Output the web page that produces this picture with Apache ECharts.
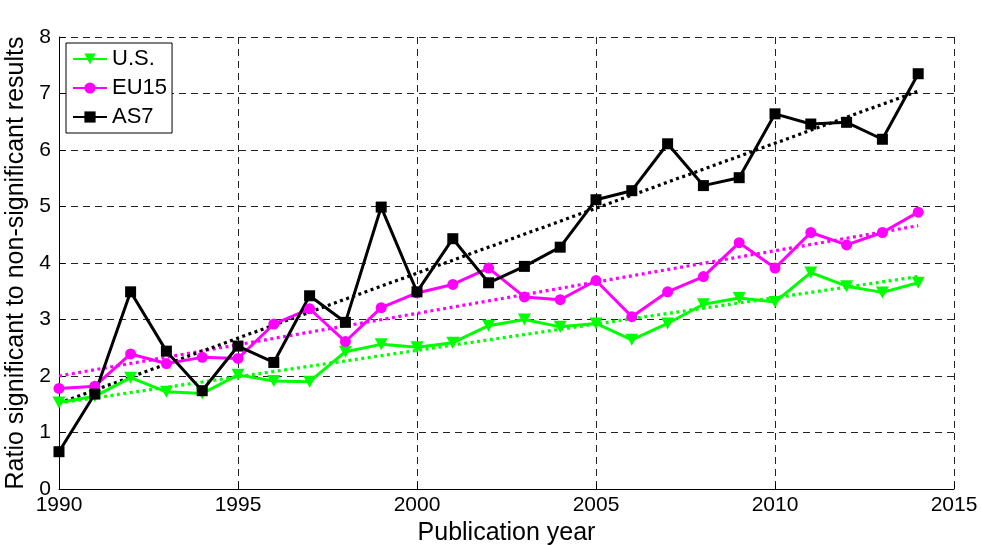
<!DOCTYPE html>
<html><head><meta charset="utf-8">
<script src="https://cdn.jsdelivr.net/npm/echarts@6/dist/echarts.min.js"></script>
<style>html,body{margin:0;padding:0;background:#fff}#c{width:981px;height:545px}</style>
</head><body><div id="c"></div>
<script>
const years = [1990,1991,1992,1993,1994,1995,1996,1997,1998,1999,2000,2001,2002,2003,2004,2005,2006,2007,2008,2009,2010,2011,2012,2013,2014];
const us   = [1.53,1.64,1.97,1.72,1.69,2.02,1.91,1.90,2.43,2.56,2.51,2.59,2.89,3.00,2.87,2.93,2.64,2.93,3.27,3.38,3.31,3.83,3.59,3.48,3.65];
const eu15 = [1.78,1.82,2.39,2.22,2.33,2.31,2.92,3.19,2.61,3.21,3.47,3.62,3.91,3.40,3.35,3.69,3.05,3.49,3.76,4.36,3.91,4.54,4.32,4.54,4.90];
const as7  = [0.66,1.68,3.49,2.44,1.74,2.53,2.24,3.42,2.95,4.99,3.49,4.43,3.65,3.94,4.28,5.12,5.28,6.11,5.37,5.51,6.64,6.46,6.49,6.19,7.35];
const trendYears = [1990,2014];
const usTrend   = [1.52,3.76];
const eu15Trend = [2.00,4.66];
const as7Trend  = [1.52,7.04];
const xTicks = [1990,1995,2000,2005,2010,2015];
const yTicks = [0,1,2,3,4,5,6,7,8];

const pairs = (xs, ys) => xs.map((x,i)=>[x, ys[i]]);
const FONT = '"Liberation Sans", Arial, sans-serif';
const triDown = 'path://M0,0 L10,0 L5,9 Z';

function mainSeries(name, data, color, symbol, size){
  return {name, type:'line', data:pairs(years,data), symbol, symbolSize:size,
    lineStyle:{color, width:3}, itemStyle:{color, borderWidth:0}, z:3, animation:false};
}
function trendSeries(name, data, color){
  return {name, type:'line', data:pairs(trendYears,data), symbol:'none',
    lineStyle:{color, width:3.2, type:[3,3.5]}, z:2, animation:false, silent:true};
}

const chart = echarts.init(document.getElementById('c'));
chart.setOption({
  backgroundColor:'#fff',
  animation:false,
  grid:{left:59, right:27, top:37, bottom:56, containLabel:false, outerBoundsMode:'none'},
  legend:{
    data:['U.S.','EU15','AS7'],
    orient:'vertical', left:66, top:43,
    backgroundColor:'#fff', borderColor:'#000', borderWidth:1,
    padding:[5,5,5,6], itemGap:7, itemWidth:34, itemHeight:14,
    textStyle:{fontFamily:FONT, fontSize:22, lineHeight:22, color:'#000'}
  },
  xAxis:{
    type:'value', min:1990, max:2015, interval:5,
    name:'Publication year', nameLocation:'middle', nameGap:29,
    nameTextStyle:{fontFamily:FONT, fontSize:25, color:'#000'},
    axisLine:{show:true, onZero:false, lineStyle:{color:'#000', width:1}},
    axisTick:{show:true, inside:true, length:6, lineStyle:{color:'#000'}},
    axisLabel:{fontFamily:FONT, fontSize:21, color:'#000', margin:6, formatter:v=>String(v)},
    splitLine:{show:true, lineStyle:{color:'#222', width:1, type:[7,5]}}
  },
  yAxis:{
    type:'value', min:0, max:8, interval:1,
    name:'Ratio significant to non-significant results', nameLocation:'middle', nameGap:22,
    nameTextStyle:{fontFamily:FONT, fontSize:25, color:'#000'},
    axisLine:{show:true, lineStyle:{color:'#000', width:1}},
    axisTick:{show:true, inside:true, length:6, lineStyle:{color:'#000'}},
    axisLabel:{fontFamily:FONT, fontSize:21, color:'#000', margin:8},
    splitLine:{show:true, lineStyle:{color:'#222', width:1, type:[7,5]}}
  },
  series:[
    trendSeries('US trend', usTrend, '#00ff00'),
    trendSeries('EU15 trend', eu15Trend, '#ff00ff'),
    trendSeries('AS7 trend', as7Trend, '#000000'),
    mainSeries('U.S.', us, '#00ff00', triDown, [13,12]),
    mainSeries('EU15', eu15, '#ff00ff', 'circle', 11),
    mainSeries('AS7', as7, '#000000', 'rect', 11)
  ]
});
</script></body></html>
